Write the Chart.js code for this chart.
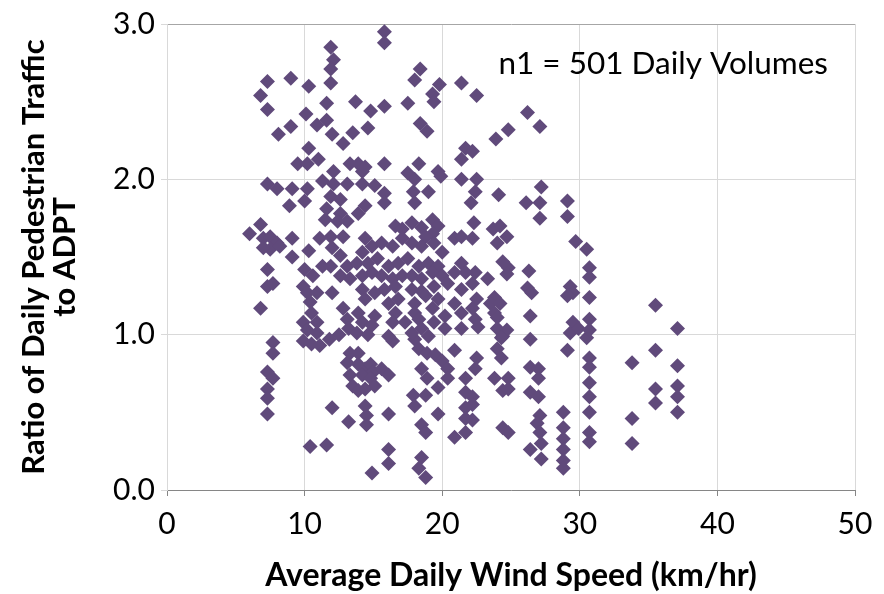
<!DOCTYPE html>
<html>
<head>
<meta charset="utf-8">
<title>Pedestrian traffic vs wind speed</title>
<script src="https://cdn.jsdelivr.net/npm/chart.js@4.4.1/dist/chart.umd.min.js"></script>
<style>
  html, body { margin: 0; padding: 0; background: #fff; }
  #wrap { width: 884px; height: 594px; position: relative; }
</style>
</head>
<body>
<div id="wrap"><canvas id="chart"></canvas></div>
<script>
// average daily wind speed (km/hr), one entry per daily count
const windSpeed = [
  6.0, 6.8, 6.8, 6.8, 7.3, 7.3, 7.3, 8.0, 9.1, 10.2,
  8.9, 10.0, 7.0, 7.5, 8.0, 7.5, 7.0, 8.2, 9.1, 9.1,
  10.3, 7.3, 7.3, 7.7, 8.1, 9.0, 9.0, 10.3, 10.1, 10.9,
  11.6, 11.6, 10.3, 9.5, 10.2, 11.0, 12.0, 12.8, 13.5, 13.3,
  12.1, 11.9, 12.1, 11.9, 11.9, 13.7, 11.3, 12.1, 13.1, 11.9,
  12.6, 11.6, 12.6, 11.5, 12.4, 13.1, 11.1, 11.9, 12.8, 12.0,
  12.6, 11.3, 11.9, 13.1, 12.6, 13.3, 10.0, 10.6, 9.9, 10.2,
  10.9, 10.4, 10.5, 9.9, 10.9, 10.2, 10.9, 12.0, 12.8, 13.1,
  13.2, 7.7, 7.7, 7.3, 7.7, 7.3, 7.3, 7.3, 10.4, 11.6,
  12.0, 13.2, 9.9, 10.5, 11.1, 13.3, 13.1, 13.3, 13.5, 12.5,
  11.8, 15.8, 15.8, 18.4, 18.0, 19.8, 19.3, 19.4, 21.4, 14.8,
  15.8, 17.5, 18.4, 18.9, 14.6, 15.8, 13.9, 14.2, 14.4, 18.3,
  17.5, 19.7, 21.4, 21.7, 22.5, 26.2, 27.1, 24.8, 23.9, 22.2,
  22.5, 27.2, 22.4, 24.1, 26.1, 27.1, 29.1, 27.1, 29.1, 22.1,
  22.3, 22.2, 23.7, 24.2, 24.7, 24.0, 24.4, 24.8, 24.7, 26.3,
  29.7, 30.5, 23.3, 22.4, 22.2, 26.2, 26.5, 29.3, 29.5, 29.1,
  22.5, 22.2, 23.8, 23.5, 24.2, 23.8, 24.0, 26.4, 22.4, 22.6,
  24.0, 24.7, 24.4, 26.4, 29.5, 29.3, 29.9, 29.1, 22.5, 22.4,
  24.0, 24.3, 26.4, 27.0, 27.0, 23.8, 24.8, 24.4, 24.8, 26.4,
  27.0, 28.8, 27.1, 26.9, 27.1, 27.2, 24.4, 24.8, 26.4, 27.2,
  28.8, 28.8, 28.8, 28.8, 28.8, 22.2, 22.2, 22.2, 30.5, 30.7,
  30.7, 30.7, 30.7, 30.7, 30.7, 30.7, 33.8, 33.8, 33.8, 35.5,
  35.5, 35.5, 37.1, 37.1, 37.1, 37.1, 30.7, 30.7, 30.7, 30.7,
  30.7, 35.5, 37.1, 13.9, 13.9, 14.4, 14.8, 15.0, 14.2, 14.8,
  15.6, 16.1, 15.1, 14.4, 13.9, 14.4, 14.5, 14.5, 16.1, 16.1,
  16.1, 14.9, 16.4, 18.0, 18.3, 18.9, 19.5, 20.0, 20.4, 20.4,
  18.5, 18.9, 17.9, 18.8, 18.0, 19.7, 19.7, 18.5, 18.8, 18.5,
  18.3, 18.8, 20.9, 21.7, 21.7, 21.7, 21.7, 20.9, 21.7, 14.2,
  15.1, 15.8, 15.8, 18.0, 17.9, 18.0, 19.0, 19.9, 21.4, 13.9,
  14.4, 16.6, 17.1, 17.8, 18.5, 19.3, 19.7, 19.3, 18.8, 14.4,
  14.9, 14.2, 15.6, 16.4, 17.1, 17.8, 18.5, 19.4, 20.0, 13.8,
  14.6, 15.3, 16.1, 16.8, 17.5, 18.3, 19.0, 19.7, 20.9, 21.4,
  21.4, 21.7, 14.2, 14.9, 15.6, 16.4, 17.1, 17.8, 18.5, 19.3,
  20.0, 20.9, 14.2, 15.1, 15.8, 16.6, 17.8, 18.5, 19.4, 20.4,
  21.4, 14.4, 16.1, 16.8, 18.0, 18.8, 19.7, 20.9, 13.9, 15.1,
  16.6, 18.0, 19.3, 20.2, 21.4, 14.2, 14.9, 16.4, 17.3, 18.3,
  18.5, 19.4, 20.2, 21.4, 13.8, 14.6, 16.1, 17.8, 19.0, 24.3
];

// ratio of daily pedestrian traffic to ADPT, same order as windSpeed
const ratio = [
  1.65, 1.71, 1.17, 2.54, 2.45, 2.63, 1.97, 1.94, 1.94, 1.94,
  1.83, 1.86, 1.62, 1.63, 1.59, 1.55, 1.56, 1.57, 1.62, 1.50,
  1.54, 1.42, 1.31, 1.33, 2.29, 2.34, 2.65, 2.60, 2.42, 2.35,
  2.38, 2.49, 2.20, 2.10, 2.10, 2.13, 2.29, 2.23, 2.30, 2.10,
  2.05, 2.85, 2.77, 2.71, 2.62, 2.50, 1.99, 1.97, 1.97, 1.89,
  1.87, 1.81, 1.78, 1.74, 1.73, 1.73, 1.62, 1.63, 1.63, 1.56,
  1.51, 1.44, 1.44, 1.44, 1.38, 1.36, 1.42, 1.38, 1.31, 1.27,
  1.27, 1.21, 1.14, 1.08, 1.08, 1.03, 1.01, 1.27, 1.17, 1.10,
  1.04, 0.95, 0.88, 0.76, 0.72, 0.65, 0.59, 0.49, 0.28, 0.29,
  0.53, 0.44, 0.96, 0.94, 0.93, 0.88, 0.82, 0.74, 0.67, 1.00,
  0.97, 2.95, 2.88, 2.71, 2.64, 2.61, 2.55, 2.50, 2.62, 2.44,
  2.47, 2.49, 2.36, 2.31, 2.33, 2.10, 2.10, 2.05, 2.08, 2.10,
  2.04, 2.05, 2.13, 2.20, 2.54, 2.43, 2.34, 2.32, 2.26, 2.18,
  2.00, 1.95, 1.92, 1.90, 1.85, 1.85, 1.86, 1.75, 1.76, 1.85,
  1.72, 1.62, 1.68, 1.70, 1.63, 1.59, 1.47, 1.43, 1.39, 1.41,
  1.60, 1.55, 1.36, 1.40, 1.33, 1.30, 1.27, 1.31, 1.27, 1.25,
  1.23, 1.17, 1.24, 1.20, 1.20, 1.14, 1.11, 1.12, 1.10, 1.05,
  1.04, 1.03, 0.99, 0.97, 1.08, 1.01, 1.04, 0.90, 0.85, 0.78,
  0.91, 0.85, 0.79, 0.78, 0.72, 0.72, 0.72, 0.64, 0.65, 0.63,
  0.60, 0.50, 0.48, 0.43, 0.37, 0.30, 0.40, 0.37, 0.26, 0.20,
  0.40, 0.33, 0.26, 0.19, 0.14, 0.60, 0.55, 0.45, 0.98, 0.85,
  0.79, 0.69, 0.60, 0.50, 0.37, 0.31, 0.82, 0.46, 0.30, 0.90,
  0.65, 0.56, 0.80, 0.67, 0.60, 0.50, 1.43, 1.37, 1.24, 1.10,
  1.03, 1.19, 1.04, 0.88, 0.81, 0.78, 0.81, 0.76, 0.74, 0.72,
  0.78, 0.74, 0.67, 0.65, 0.64, 0.54, 0.48, 0.42, 0.49, 0.26,
  0.17, 0.11, 0.96, 0.97, 0.91, 0.88, 0.87, 0.83, 0.78, 0.72,
  0.78, 0.72, 0.61, 0.61, 0.54, 0.66, 0.49, 0.42, 0.37, 0.21,
  0.14, 0.08, 0.90, 0.72, 0.63, 0.53, 0.46, 0.34, 0.37, 1.97,
  1.96, 1.91, 1.85, 2.00, 1.92, 1.85, 1.92, 2.02, 2.00, 1.78,
  1.83, 1.70, 1.68, 1.72, 1.69, 1.74, 1.70, 1.65, 1.63, 1.62,
  1.57, 1.53, 1.59, 1.57, 1.62, 1.59, 1.57, 1.59, 1.53, 1.46,
  1.46, 1.49, 1.44, 1.46, 1.49, 1.44, 1.46, 1.44, 1.62, 1.63,
  1.46, 1.40, 1.38, 1.40, 1.38, 1.36, 1.38, 1.38, 1.36, 1.40,
  1.38, 1.40, 1.29, 1.27, 1.29, 1.31, 1.29, 1.28, 1.31, 1.33,
  1.29, 1.23, 1.20, 1.23, 1.20, 1.25, 1.23, 1.20, 1.14, 1.12,
  1.14, 1.14, 1.17, 1.12, 1.14, 1.08, 1.06, 1.08, 1.08, 1.10,
  1.04, 1.08, 1.04, 1.04, 1.01, 1.00, 0.99, 1.01, 0.99, 0.98
];

const xTicks = [0, 10, 20, 30, 40, 50];
const yTicks = [0, 1, 2, 3];
const yTickLabels = ['0.0', '1.0', '2.0', '3.0'];

const sampleNote = 'n1 = 501 Daily Volumes';
const xTitle = 'Average Daily Wind Speed (km/hr)';
const yTitle = ['Ratio of Daily Pedestrian Traffic', 'to ADPT'];

const points = windSpeed.map((x, i) => ({ x, y: ratio[i] }));

const FONT = 'Lato, "DejaVu Sans", sans-serif';
const MARKER = '#604A7B';
const GRID = '#D9D9D9';
const AXIS = '#868686';

// sample-size note in the upper right of the plot
const notePlugin = {
  id: 'note',
  afterDraw(chart) {
    const { ctx, chartArea } = chart;
    ctx.save();
    ctx.font = '31.5px ' + FONT;
    ctx.fillStyle = '#000';
    ctx.textAlign = 'right';
    ctx.textBaseline = 'middle';
    ctx.fillText(sampleNote, chartArea.right - 27, chartArea.top + 40);
    ctx.restore();
  }
};

new Chart(document.getElementById('chart'), {
  type: 'scatter',
  data: {
    datasets: [{
      data: points,
      pointStyle: 'rectRot',
      pointRadius: 7.5,
      pointHoverRadius: 7.5,
      backgroundColor: MARKER,
      borderColor: MARKER,
      borderWidth: 0
    }]
  },
  options: {
    responsive: true,
    maintainAspectRatio: false,
    animation: false,
    layout: { padding: { top: 22, right: 29, left: 0, bottom: 0 } },
    plugins: {
      legend: { display: false },
      tooltip: { enabled: false }
    },
    scales: {
      x: {
        type: 'linear',
        min: 0,
        max: 50,
        afterBuildTicks: scale => { scale.ticks = xTicks.map(v => ({ value: v })); },
        afterFit: scale => { scale.height = 104; },
        grid: { color: GRID, lineWidth: 1, tickLength: 6, tickColor: AXIS },
        border: { color: AXIS, width: 1 },
        ticks: {
          color: '#000',
          font: { family: FONT, size: 30 },
          padding: 10,
          maxRotation: 0
        },
        title: {
          display: true,
          text: xTitle,
          color: '#000',
          font: { family: FONT, size: 32, weight: 'bold', lineHeight: 1 },
          padding: { top: 0, bottom: 2 }
        }
      },
      y: {
        type: 'linear',
        min: 0,
        max: 3,
        afterBuildTicks: scale => { scale.ticks = yTicks.map(v => ({ value: v })); },
        afterFit: scale => { scale.width = 167; },
        grid: {
          color: ctx => (ctx.tick && ctx.tick.value === 3 ? '#A6A6A6' : GRID),
          lineWidth: 1,
          tickLength: 6,
          tickColor: GRID
        },
        border: { color: GRID, width: 1 },
        ticks: {
          color: '#000',
          font: { family: FONT, size: 30 },
          padding: 6,
          callback: (v) => yTickLabels[yTicks.indexOf(v)]
        },
        title: {
          display: true,
          text: yTitle,
          color: '#000',
          font: { family: FONT, size: 31, weight: 'bold', lineHeight: 1 },
          padding: { top: 18, bottom: 0 }
        }
      }
    }
  },
  plugins: [notePlugin]
});
</script>
</body>
</html>
